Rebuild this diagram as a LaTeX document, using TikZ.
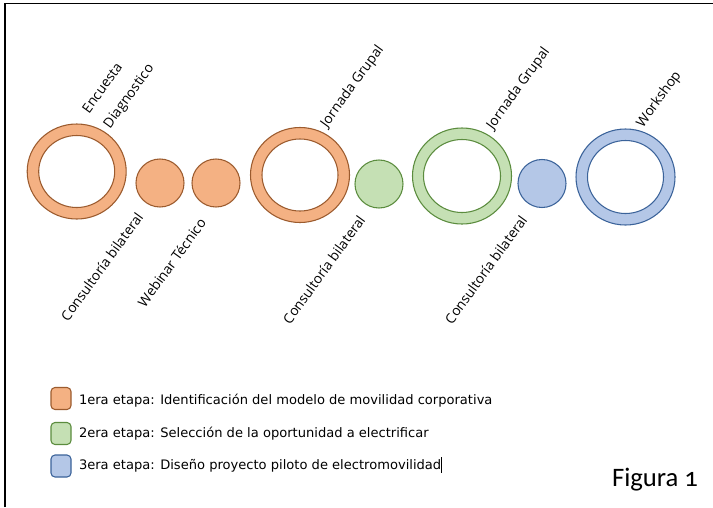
\documentclass[tikz,border=0pt]{standalone}
\usepackage{fontspec}
\usetikzlibrary{shapes.geometric}
\newfontfamily\lblfont{Open Sans}
\newfontfamily\legfont{DejaVu Sans}
\newfontfamily\figfont[Numbers=OldStyle]{Carlito}
\definecolor{orfill}{HTML}{F4B183}
\definecolor{ordraw}{HTML}{9C5B2E}
\definecolor{grfill}{HTML}{C5E0B4}
\definecolor{grdraw}{HTML}{5B8C3E}
\definecolor{blfill}{HTML}{B4C7E7}
\definecolor{bldraw}{HTML}{3B639A}
\tikzset{
  ell/.style={ellipse, inner sep=0pt, outer sep=0pt, line width=0.8pt},
  outerO/.style={ell, draw=ordraw, fill=orfill},
  outerG/.style={ell, draw=grdraw, fill=grfill},
  outerB/.style={ell, draw=bldraw, fill=blfill},
  innerO/.style={ell, draw=ordraw, fill=white},
  innerG/.style={ell, draw=grdraw, fill=white},
  innerB/.style={ell, draw=bldraw, fill=white},
  lbl/.style={inner sep=0pt, outer sep=0pt, font=\lblfont\fontsize{10.3pt}{12pt}\selectfont, anchor=base west, rotate=54},
  legbox/.style={rounded corners=3pt, line width=0.8pt, minimum width=15pt, minimum height=16.5pt, inner sep=0pt},
  legtxt/.style={inner sep=0pt, outer sep=0pt, anchor=base west, font=\legfont\fontsize{9.8pt}{12pt}\selectfont},
}
\begin{document}
\begin{tikzpicture}[x=0.75pt,y=-0.75pt]
\useasboundingbox[fill=white] (0,0) rectangle (713,507);
\coordinate (fa) at (5,507);
\coordinate (fb) at (5,3.5);
\coordinate (fc) at (713,3.5);
\draw[line width=1.1pt] (fa) -- (fb) -- (fc);
% rings and circles
\node[outerO, minimum width=99pt*0.75, minimum height=95pt*0.75] (r1) at (76.7,171.5) {};
\node[innerO, minimum width=76pt*0.75, minimum height=72pt*0.75] (r1i) at (r1.center) {};
\node[outerO, minimum size=48pt*0.75] (c2) at (160,183) {};
\node[outerO, minimum size=48pt*0.75] (c3) at (216,183) {};
\node[outerO, minimum width=99pt*0.75, minimum height=95pt*0.75] (r4) at (300,175) {};
\node[innerO, minimum width=76pt*0.75, minimum height=72pt*0.75] (r4i) at (r4.center) {};
\node[outerG, minimum size=48pt*0.75] (c5) at (379,184) {};
\node[outerG, minimum width=99pt*0.75, minimum height=96pt*0.75] (r6) at (462,176) {};
\node[innerG, minimum width=77pt*0.75, minimum height=73pt*0.75] (r6i) at (r6.center) {};
\node[outerB, minimum size=48pt*0.75] (c7) at (542,183.5) {};
\node[outerB, minimum width=99pt*0.75, minimum height=96pt*0.75] (r8) at (625.5,177) {};
\node[innerB, minimum width=76pt*0.75, minimum height=73pt*0.75] (r8i) at (r8.center) {};
% labels
\node[lbl] (l1a) at (89,114) {Encuesta};
\node[lbl] (l1b) at (110,129) {Diagnostico};
\node[lbl] (l2) at (68,322) {Consultoría bilateral};
\node[lbl] (l3) at (145,308) {Webinar Técnico};
\node[lbl] (l4) at (327,128) {Jornada Grupal};
\node[lbl] (l5) at (290,325) {Consultoría bilateral};
\node[lbl] (l6) at (493,130) {Jornada Grupal};
\node[lbl] (l7) at (452,325) {Consultoría bilateral};
\node[lbl] (l8) at (643,128) {Workshop};
% legend
\node[legbox, draw=ordraw, fill=orfill] (k1) at (61,398.5) {};
\node[legbox, draw=grdraw, fill=grfill] (k2) at (61,433.5) {};
\node[legbox, draw=bldraw, fill=blfill] (k3) at (61,466) {};
\node[legtxt] (t1) at (79,404) {1era etapa: Identificación del modelo de movilidad corporativa};
\node[legtxt] (t2) at (79,437) {2era etapa: Selección de la oportunidad a electrificar};
\node[legtxt] (t3) at (79,469.5) {3era etapa: Diseño proyecto piloto de electromovilidad\rule[-0.25em]{0.5pt}{1.2em}};
\node[inner sep=0pt, outer sep=0pt, anchor=base west, font=\figfont\fontsize{20pt}{24pt}\selectfont] (fig) at (612,486) {Figura 1};
\end{tikzpicture}
\end{document}
